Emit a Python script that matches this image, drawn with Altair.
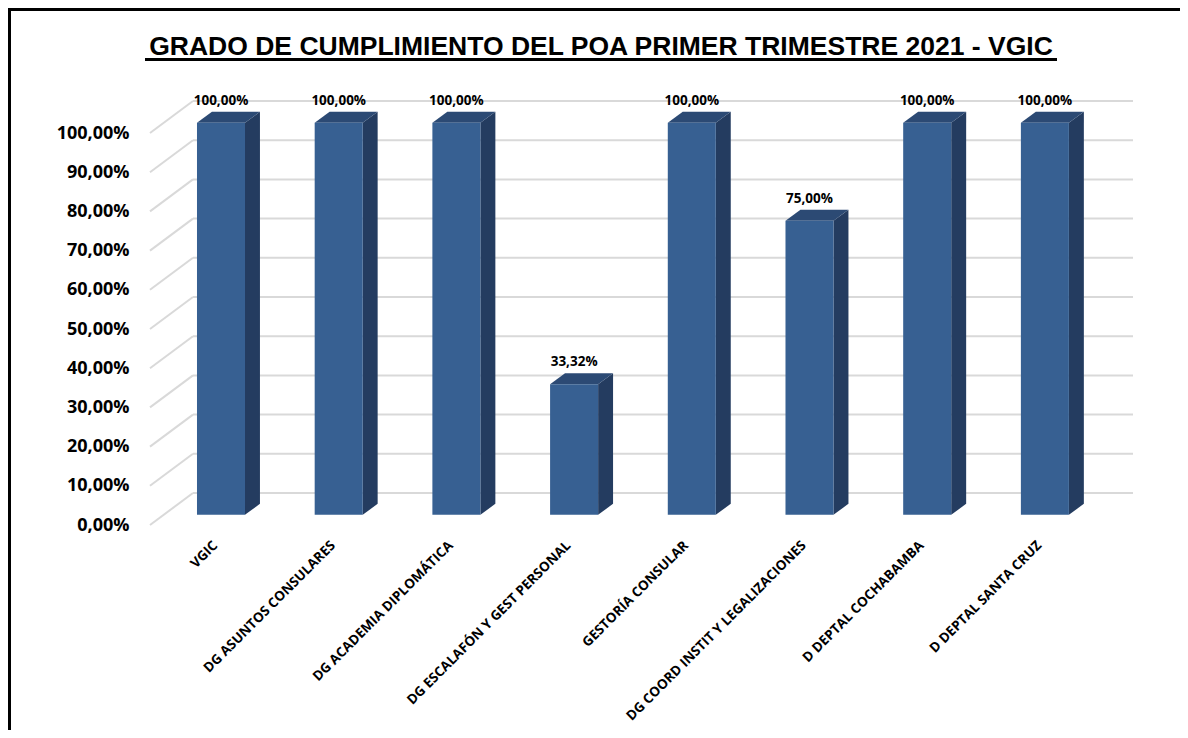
import altair as alt
import pandas as pd

# ---------------- data ----------------
categories = [
    "VGIC",
    "DG ASUNTOS CONSULARES",
    "DG ACADEMIA DIPLOMÁTICA",
    "DG ESCALAFÓN Y GEST PERSONAL",
    "GESTORÍA CONSULAR",
    "DG COORD INSTIT Y LEGALIZACIONES",
    "D DEPTAL COCHABAMBA",
    "D DEPTAL SANTA CRUZ",
]
values = [100.00, 100.00, 100.00, 33.32, 100.00, 75.00, 100.00, 100.00]
y_ticks = [0, 10, 20, 30, 40, 50, 60, 70, 80, 90, 100]

title_text = "GRADO DE CUMPLIMIENTO DEL POA PRIMER TRIMESTRE 2021 - VGIC"

# ---------------- geometry of the pseudo-3D look (in scale units) ----------------
HW = 0.204      # half width of bar front face (slot units)
DX = 0.127      # depth of bar (x)
DY = 2.8        # depth of bar (y, percent units)
BASE = 2.6      # front face lifted above floor line
BACK = 8.16     # back wall offset of gridlines
GX0 = -0.6032   # left end of slanted gridline
GX1 = -0.238    # start of back wall
GX2 = 7.7485    # right end of back wall
XMAX = 7.808
W, H = 990, 435
YMAX = H / 3.92

xs = alt.Scale(domain=[GX0, XMAX], nice=False, zero=False)
ys = alt.Scale(domain=[0, YMAX], nice=False, zero=False)

FRONT = "#376092"
SIDE = "#243C60"
TOP = "#2C4A74"
GRID = "#D9D9D9"
FONT = "Open Sans"

bars = pd.DataFrame({"name": categories, "idx": list(range(len(values))), "value": values})
bars["x0"] = bars["idx"] - HW
bars["x1"] = bars["idx"] + HW
bars["y0"] = BASE
bars["y1"] = bars["value"] + BASE
bars["ytop"] = bars["value"] + BASE + DY

side_rows, top_rows = [], []
for i, v in enumerate(values):
    side_rows.append({"idx": i, "x": i + HW, "y": v + BASE, "y2": BASE})
    side_rows.append({"idx": i, "x": i + HW + DX, "y": v + BASE + DY, "y2": BASE + DY})
    top_rows.append({"idx": i, "y": v + BASE, "x": i - HW, "x2": i + HW})
    top_rows.append({"idx": i, "y": v + BASE + DY, "x": i - HW + DX, "x2": i + HW + DX})
side = pd.DataFrame(side_rows)
top = pd.DataFrame(top_rows)

grid = pd.DataFrame({"v": y_ticks})
grid["vb"] = grid["v"] + BACK
grid["gx0"] = GX0
grid["gx1"] = GX1
grid["gx2"] = GX2

label_arr = "[" + ",".join("'" + c + "'" for c in categories) + "]"

xaxis = alt.Axis(
    values=list(range(len(categories))), labelExpr=label_arr + "[datum.value]",
    title=None, domain=False, ticks=False, grid=False, labelAngle=-45,
    labelAlign="right", labelBaseline="middle", labelPadding=18, labelOffset=-6,
    labelFont=FONT, labelFontWeight="bold", labelFontSize=13.5, labelColor="black",
    labelOverlap=False, labelFlush=False, labelBound=False, labelLimit=500)
yaxis = alt.Axis(
    values=y_ticks, labelExpr="replace(format(datum.value, '.2f'), '.', ',') + '%'",
    title=None, domain=False, ticks=False, grid=False, labelPadding=21,
    labelFont=FONT, labelFontWeight="bold", labelFontSize=18, labelColor="black",
    labelFlush=False, labelOverlap=False)


def X(field):
    return alt.X(field, scale=xs, axis=xaxis, title=None)


def Y(field):
    return alt.Y(field, scale=ys, axis=yaxis, title=None)


# ---------------- layers ----------------
grid_back = alt.Chart(grid).mark_rule(color=GRID, strokeWidth=2).encode(
    x=X("gx1:Q"), x2="gx2:Q", y=Y("vb:Q"),
)
grid_slant = alt.Chart(grid).mark_rule(color=GRID, strokeWidth=2).encode(
    x=X("gx0:Q"), x2="gx1:Q", y=Y("v:Q"), y2="vb:Q",
)
side_layer = alt.Chart(side).mark_area(color=SIDE, orient="vertical", interpolate="linear").encode(
    x=X("x:Q"), y=Y("y:Q"), y2="y2:Q", detail="idx:N",
)
top_layer = alt.Chart(top).mark_area(color=TOP, orient="horizontal", interpolate="linear").encode(
    y=Y("y:Q"), x=X("x:Q"), x2="x2:Q", detail="idx:N",
)
front_layer = alt.Chart(bars).mark_rect(color=FRONT).encode(
    x=X("x0:Q"), x2="x1:Q", y=Y("y0:Q"), y2="y1:Q",
)
labels = alt.Chart(bars).transform_calculate(
    lab="replace(format(datum.value, '.2f'), '.', ',') + '%'"
).mark_text(font=FONT, fontWeight="bold", fontSize=13.5, color="black",
            baseline="bottom", dy=-4).encode(
    x=X("idx:Q"), y=Y("ytop:Q"), text="lab:N",
)

one = alt.Data(values=[{}])
title_layer = alt.Chart(one).mark_text(
    font="Liberation Sans", fontWeight="bold", fontSize=26.5, color="black",
    align="center", baseline="alphabetic").encode(
    x=alt.value(451), y=alt.value(-35), text=alt.value(title_text))
underline = alt.Chart(one).mark_rule(color="black", strokeWidth=3).encode(
    x=alt.value(-5), x2=alt.value(907), y=alt.value(-30.5))
box_top = alt.Chart(one).mark_rule(color="black", strokeWidth=3).encode(
    x=alt.value(-142), x2=alt.value(1030), y=alt.value(-80.5))
box_left = alt.Chart(one).mark_rule(color="black", strokeWidth=3).encode(
    x=alt.value(-140.5), y=alt.value(-82), y2=alt.value(640))

chart = alt.layer(
    grid_back, grid_slant, side_layer, top_layer, front_layer, labels,
    title_layer, underline, box_top, box_left,
).resolve_scale(x="shared", y="shared").properties(
    width=W, height=H,
    autosize=alt.AutoSizeParams(type="none"),
    padding={"left": 142, "top": 82, "right": 40, "bottom": 205},
    background="white",
).configure_view(stroke=None)

chart.save("out.html", embed_options={"renderer": "svg", "actions": False})
